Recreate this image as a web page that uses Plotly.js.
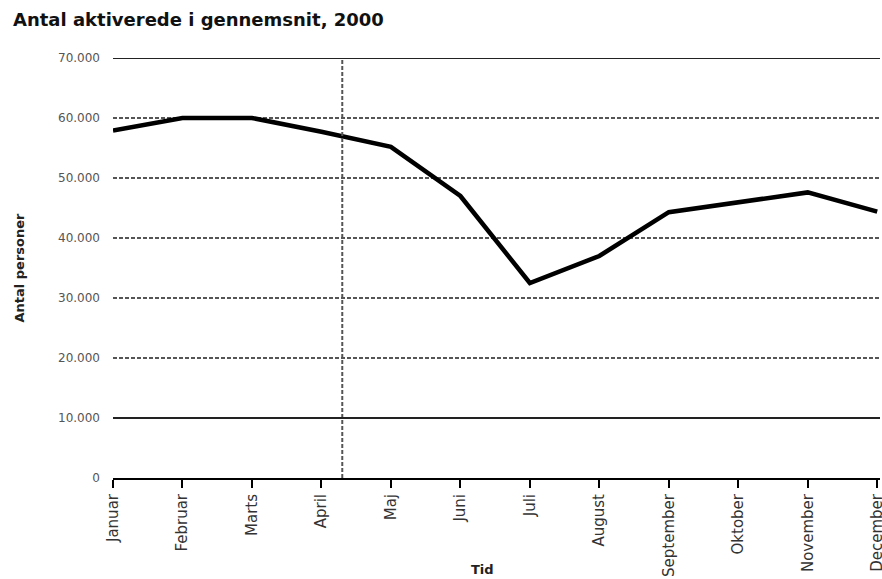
<!DOCTYPE html>
<html>
<head>
<meta charset="utf-8">
<script src="https://cdn.plot.ly/plotly-3.0.1.min.js"></script>
<style>html,body{margin:0;padding:0;background:#fff;}#chart{width:882px;height:579px;}</style>
</head>
<body>
<div id="chart"></div>
<script>
const months = ["Januar","Februar","Marts","April","Maj","Juni","Juli","August","September","Oktober","November","December"];
const activated = [57900, 60000, 60000, 57700, 55200, 47000, 32500, 37000, 44300, 46000, 47600, 44400];
const yTicks = [0, 10000, 20000, 30000, 40000, 50000, 60000, 70000];
const solidGridValues = [10000, 70000];
const markerPosition = 3.3; // vertical reference line between April and Maj

const trace = {
  x: months,
  y: activated,
  type: 'scatter',
  mode: 'lines',
  line: {color: '#000', width: 4.5},
  hoverinfo: 'skip'
};

const shapes = [
  {type: 'line', xref: 'x', yref: 'paper', x0: markerPosition, x1: markerPosition, y0: 0, y1: 1,
   line: {color: '#555', width: 2, dash: '4px,2px'}}
];
solidGridValues.forEach(v => shapes.push({
  type: 'line', xref: 'paper', yref: 'y', x0: 0, x1: 1, y0: v, y1: v,
  line: {color: '#222', width: 1.8}
}));

const layout = {
  width: 882,
  height: 579,
  margin: {l: 113, r: 2, t: 58, b: 101},
  paper_bgcolor: '#fff',
  plot_bgcolor: '#fff',
  showlegend: false,
  separators: ',.',
  title: {
    text: '<b>Antal aktiverede i gennemsnit, 2000</b>',
    font: {family: 'DejaVu Sans', size: 18, color: '#111'},
    xref: 'container', yref: 'container',
    x: 13/882, xanchor: 'left',
    y: 1 - 20/579, yanchor: 'middle'
  },
  xaxis: {
    type: 'category',
    range: [0, 11.04],
    showgrid: false,
    zeroline: false,
    showline: true,
    linecolor: '#000',
    linewidth: 2,
    ticks: 'outside',
    ticklen: 8,
    tickwidth: 2,
    tickcolor: '#000',
    tickangle: -90,
    tickfont: {family: 'DejaVu Sans', size: 15, color: '#333'}
  },
  yaxis: {
    range: [0, 70000],
    tickvals: yTicks,
    tickformat: ',d',
    showgrid: true,
    gridcolor: '#555',
    gridwidth: 1.3,
    griddash: '4px,2px',
    zeroline: false,
    showline: false,
    ticks: '',
    ticklabelstandoff: 12,
    tickfont: {family: 'DejaVu Sans', size: 12, color: '#555'},
    title: {
      text: '<b>Antal personer</b>',
      font: {family: 'DejaVu Sans', size: 13, color: '#222'},
      standoff: 30
    }
  },
  shapes: shapes,
  annotations: [
    {text: '<b>Tid</b>', xref: 'paper', yref: 'paper', x: 0.482, y: -0.219,
     xanchor: 'center', yanchor: 'middle', showarrow: false,
     font: {family: 'DejaVu Sans', size: 13, color: '#222'}}
  ]
};

Plotly.newPlot('chart', [trace], layout, {displayModeBar: false, staticPlot: true});
</script>
</body>
</html>
